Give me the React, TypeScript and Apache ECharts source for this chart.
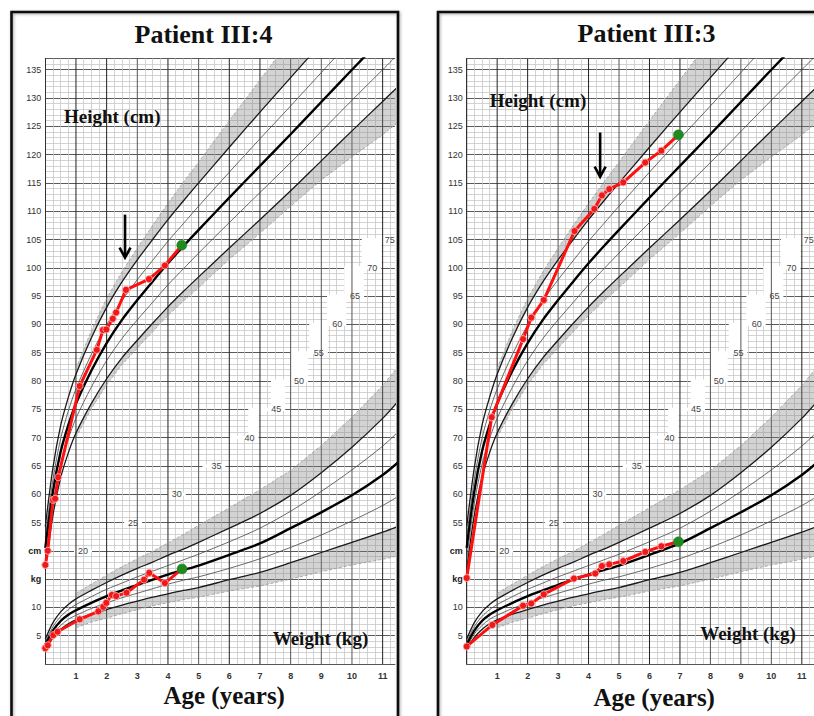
import React, { useEffect, useRef } from 'react';
import * as echarts from 'echarts';

// ---------------- reference curves ----------------
const refAges = [0, 0.25, 0.5, 0.75, 1, 1.5, 2, 2.5, 3, 3.5, 4, 4.5, 5, 6, 7, 8, 9, 10, 11, 11.5];
const heightPlus2 = [54.3, 64.7, 72.1, 77.1, 81.2, 87.6, 93.0, 97.5, 101.4, 105.0, 108.5, 111.8, 115.0, 121.3, 127.5, 133.6, 139.7, 145.8, 151.8, 154.8];
const heightPlus1 = [52.4, 62.6, 69.8, 74.7, 78.6, 84.7, 89.9, 94.2, 97.9, 101.3, 104.7, 107.8, 110.9, 116.9, 122.8, 128.6, 134.5, 140.4, 146.2, 149.1];
const heightMedian = [50.5, 60.5, 67.5, 72.2, 76.0, 81.8, 86.7, 90.8, 94.3, 97.6, 100.8, 103.8, 106.7, 112.4, 118.0, 123.6, 129.3, 135.0, 140.6, 143.4];
const heightMinus1 = [48.6, 58.4, 65.2, 69.8, 73.4, 78.9, 83.6, 87.5, 90.8, 93.9, 97.0, 99.8, 102.6, 108.0, 113.3, 118.6, 124.1, 129.6, 135.0, 137.7];
const heightMinus2 = [46.7, 56.3, 62.9, 67.3, 70.8, 76.0, 80.4, 84.1, 87.2, 90.2, 93.1, 95.8, 98.4, 103.5, 108.5, 113.6, 118.9, 124.2, 129.4, 132.0];

const bandAges = [1, 1.5, 2, 2.5, 3, 3.5, 4, 4.5, 5, 6, 7, 8, 9, 10, 11, 11.5];
const heightBandTop = [82.2, 88.9, 94.6, 99.3, 103.5, 107.5, 111.4, 115.1, 118.7, 126.0, 133.2, 140.4, 147.0, 153.4, 159.6, 162.8];
const heightBandBottom = [70.0, 75.1, 79.3, 82.9, 85.8, 88.7, 91.6, 94.1, 96.5, 101.5, 106.1, 110.9, 115.5, 119.6, 123.5, 125.7];

const weightPlus2 = [4.4, 7.3, 9.2, 10.5, 11.5, 13.0, 14.4, 15.7, 16.9, 18.0, 19.2, 20.3, 21.5, 24.0, 26.6, 29.8, 33.8, 38.3, 43.4, 46.4];
const weightPlus1 = [3.9, 6.6, 8.4, 9.6, 10.5, 11.9, 13.2, 14.3, 15.4, 16.4, 17.4, 18.4, 19.4, 21.6, 24.0, 27.0, 30.5, 34.3, 38.5, 41.0];
const weightMedian = [3.4, 5.9, 7.6, 8.7, 9.5, 10.8, 12.0, 13.0, 14.0, 14.9, 15.8, 16.6, 17.4, 19.3, 21.3, 24.0, 26.8, 29.8, 33.4, 35.6];
const weightMinus1 = [2.9, 5.3, 6.8, 7.9, 8.6, 9.8, 10.8, 11.7, 12.5, 13.3, 14.1, 14.8, 15.4, 16.9, 18.6, 20.6, 22.8, 25.3, 28.0, 29.6];
const weightMinus2 = [2.5, 4.7, 6.1, 7.1, 7.8, 8.8, 9.6, 10.4, 11.1, 11.8, 12.4, 13.0, 13.5, 14.9, 16.2, 17.9, 19.7, 21.5, 23.3, 24.3];
const weightBandTop = [12.5, 14.1, 15.7, 17.2, 18.6, 19.9, 21.4, 22.9, 24.5, 27.6, 30.8, 34.2, 38.6, 43.6, 49.2, 52.5];
const weightBandBottom = [6.4, 7.4, 8.1, 8.9, 9.6, 10.3, 10.8, 11.4, 11.8, 12.9, 13.8, 15.0, 16.3, 17.5, 18.5, 19.1];

// ---------------- patients ----------------
const p4HeightAges = [0, 0.08, 0.25, 0.32, 0.42, 1.12, 1.68, 1.88, 1.99, 2.2, 2.31, 2.63, 3.38, 3.9, 4.45];
const p4Heights = [47.5, 50.0, 59.0, 59.2, 63.0, 79.1, 85.5, 89.0, 89.1, 91.0, 92.1, 96.1, 98.0, 100.4, 104.0];
const p4WeightAges = [0, 0.08, 0.26, 0.4, 1.12, 1.73, 1.89, 1.99, 2.17, 2.31, 2.65, 3.22, 3.39, 3.9, 4.46];
const p4Weights = [2.8, 3.3, 5.1, 5.7, 7.9, 9.3, 10.1, 10.8, 12.2, 12.0, 12.6, 14.9, 16.1, 14.3, 16.8];

const p3HeightAges = [0, 0.82, 1.85, 2.12, 2.53, 3.54, 4.19, 4.44, 4.68, 5.14, 5.86, 6.39, 6.95];
const p3Heights = [45.2, 73.6, 87.4, 91.2, 94.3, 106.5, 110.4, 112.8, 113.9, 115.1, 118.6, 120.7, 123.5];
const p3WeightAges = [0, 0.84, 1.85, 2.12, 2.53, 3.52, 4.22, 4.44, 4.68, 5.14, 5.86, 6.39, 6.95];
const p3Weights = [3.1, 6.9, 10.3, 10.7, 12.3, 15.1, 16.0, 17.3, 17.6, 18.2, 19.8, 20.8, 21.6];

// ---------------- scales / ticks ----------------
const weightScaleLabels = [20, 25, 30, 35, 40, 45, 50, 55, 60, 65, 70, 75];
const weightScaleAges = [1.23, 2.86, 4.29, 5.58, 6.66, 7.53, 8.27, 8.92, 9.52, 10.1, 10.66, 11.23];
const yearTicks = [0, 1, 2, 3, 4, 5, 6, 7, 8, 9, 10, 11];
const unitTickLabels: Record<number, string> = { 30: '', 35: '5', 40: '10', 45: '{u|kg}', 50: '{u|cm}' };
const arrowAges = [2.6, 4.38];
const arrowFrom = [109.4, 123.9];
const arrowTo = [101.8, 116.1];
const panelTitles = ['Patient III:4', 'Patient III:3'];

const AGE_MAX = 11.4;
const H_MIN = 30;
const H_MAX = 137;
const W_MAX = 107;

const yearLineColors = ['#333', '#222', '#222', '#555', '#222', '#555', '#222', '#222', '#555', '#555', '#555', '#222'];
const SANS = '"Liberation Sans", Arial, sans-serif';
const SERIF = '"Liberation Serif", "Times New Roman", serif';

function gapLeft(i: number) {
  return i < 3 ? 9 : i === 3 ? 14 : i === 4 ? 20 : 28;
}

function makeX(gridIndex: number) {
  return {
    type: 'value', gridIndex, min: 0, max: AGE_MAX, interval: 1,
    axisLine: { show: true, lineStyle: { color: '#555', width: 1 } },
    axisTick: { show: false },
    axisLabel: {
      formatter: (v: number) => (v === 0 || v > 11 ? '' : String(v)),
      showMaxLabel: false,
      fontSize: 9, color: '#333', fontWeight: 'bold', margin: 7, fontFamily: SANS,
    },
    splitLine: { show: false },
    minorTick: { show: false, splitNumber: 4 },
    minorSplitLine: { show: true, lineStyle: { color: '#c8c8c8', width: 0.8 } },
  };
}
function makeH(gridIndex: number) {
  return {
    type: 'value', gridIndex, min: H_MIN, max: H_MAX, interval: 5,
    axisLine: { show: true, lineStyle: { color: '#333', width: 1 } },
    axisTick: { show: false },
    axisLabel: {
      formatter: (v: number) => (v > 135 ? '' : v in unitTickLabels ? unitTickLabels[v] : String(v)),
      showMaxLabel: false,
      fontSize: 9, color: '#333', margin: 4, fontFamily: SANS,
      rich: { u: { fontWeight: 'bold', fontSize: 9, color: '#222', fontFamily: SANS } },
    },
    splitLine: { show: true, lineStyle: { color: '#5a5a5a', width: 1 } },
    minorTick: { show: false, splitNumber: 5 },
    minorSplitLine: { show: true, lineStyle: { color: '#c8c8c8', width: 0.8 } },
  };
}
function makeW(gridIndex: number) {
  return { type: 'value', gridIndex, min: 0, max: W_MAX, show: false };
}

function refLine(xi: number, yi: number, vals: number[], width: number, color: string) {
  return {
    type: 'line', xAxisIndex: xi, yAxisIndex: yi, silent: true, z: 4,
    data: refAges.map((a, i) => [a, vals[i]]),
    showSymbol: false, symbol: 'none', smooth: 0.3, clip: true,
    lineStyle: { color, width },
  };
}

function bandSeries(xi: number, yi: number, bands: { inner: number[]; outer: number[] }[]) {
  return {
    type: 'custom', xAxisIndex: xi, yAxisIndex: yi, silent: true, z: 3, clip: true,
    data: bands.map((_, i) => [1, i === 0 ? 60 : 40]),
    renderItem: (params: any, api: any) => {
      const b = bands[params.dataIndex];
      const outer = bandAges.map((a, k) => api.coord([a, b.outer[k]]));
      const inner = bandAges.map((a, k) => api.coord([a, b.inner[k]]));
      return {
        type: 'group',
        children: [
          { type: 'polygon', shape: { points: outer.concat(inner.slice().reverse()) }, style: { fill: 'rgba(125,125,125,0.34)' } },
          { type: 'polyline', shape: { points: outer }, style: { stroke: '#9a9a9a', lineWidth: 0.8, lineDash: [3, 2], fill: null } },
        ],
      };
    },
  };
}

function patientSeries(xi: number, yi: number, ages: number[], vals: number[]) {
  const data = ages.map((a, i) =>
    i === ages.length - 1
      ? { value: [a, vals[i]], symbolSize: 10, itemStyle: { color: '#1f8a1f', borderColor: '#1a7a1a', borderWidth: 0.5 } }
      : [a, vals[i]]
  );
  return {
    type: 'line', xAxisIndex: xi, yAxisIndex: yi, silent: true, z: 6, clip: true,
    data, symbol: 'circle', symbolSize: 7, showSymbol: true, showAllSymbol: true,
    lineStyle: { color: '#ff1010', width: 3 },
    itemStyle: { color: '#f01818', borderColor: '#ffa4a4', borderWidth: 1 },
  };
}

function panelSeries(p: number, hAges: number[], hVals: number[], wAges: number[], wVals: number[]) {
  const xi = p, hy = 2 * p, wy = 2 * p + 1;
  const s: any[] = [];
  // white staircase corridor with the weight scale labels
  s.push({
    type: 'custom', xAxisIndex: xi, yAxisIndex: wy, silent: true, z: 1, clip: true,
    data: weightScaleAges.map((a, i) => [a, weightScaleLabels[i]]),
    renderItem: (params: any, api: any) => {
      const i = params.dataIndex;
      const pt = api.coord([api.value(0), api.value(1)]);
      const children: any[] = [
        { type: 'rect', shape: { x: pt[0] - gapLeft(i), y: pt[1] - 1.6, width: gapLeft(i) + 9, height: 3.2 }, style: { fill: '#fff' } },
      ];
      if (i + 1 < weightScaleAges.length) {
        const pn = api.coord([weightScaleAges[i + 1], weightScaleLabels[i + 1]]);
        const x0 = pn[0] - gapLeft(i + 1);
        const x1 = pt[0] + 9;
        if (x1 > x0) {
          children.push({ type: 'rect', shape: { x: x0, y: pn[1] + 1.2, width: x1 - x0, height: pt[1] - pn[1] - 2.4 }, style: { fill: '#fff' } });
        }
      }
      children.push({
        type: 'text',
        style: {
          text: String(api.value(1)), x: pt[0], y: pt[1], fill: '#444',
          font: `9px ${SANS}`, align: 'center', verticalAlign: 'middle', textAlign: 'center', textVerticalAlign: 'middle',
        },
      });
      return { type: 'group', children };
    },
  });
  // year lines
  s.push({
    type: 'custom', xAxisIndex: xi, yAxisIndex: hy, silent: true, z: 2, clip: true,
    data: yearTicks.map((a) => [a, 50]),
    renderItem: (params: any, api: any) => {
      const a = api.value(0);
      const t = api.coord([a, H_MAX]);
      const b = api.coord([a, H_MIN]);
      return { type: 'line', shape: { x1: t[0], y1: t[1], x2: b[0], y2: b[1] }, style: { stroke: yearLineColors[params.dataIndex], lineWidth: 1 } };
    },
  });
  // bands
  s.push(bandSeries(xi, hy, [
    { inner: heightPlus2.slice(4), outer: heightBandTop },
    { inner: heightMinus2.slice(4), outer: heightBandBottom },
  ]));
  s.push(bandSeries(xi, wy, [
    { inner: weightPlus2.slice(4), outer: weightBandTop },
    { inner: weightMinus2.slice(4), outer: weightBandBottom },
  ]));
  // reference lines
  s.push(refLine(xi, hy, heightPlus2, 1.3, '#1a1a1a'));
  s.push(refLine(xi, hy, heightPlus1, 0.8, '#444'));
  s.push(refLine(xi, hy, heightMedian, 2.4, '#000'));
  s.push(refLine(xi, hy, heightMinus1, 0.8, '#444'));
  s.push(refLine(xi, hy, heightMinus2, 1.3, '#1a1a1a'));
  s.push(refLine(xi, wy, weightPlus2, 1.3, '#1a1a1a'));
  s.push(refLine(xi, wy, weightPlus1, 0.8, '#444'));
  s.push(refLine(xi, wy, weightMedian, 2.4, '#000'));
  s.push(refLine(xi, wy, weightMinus1, 0.8, '#444'));
  s.push(refLine(xi, wy, weightMinus2, 1.3, '#1a1a1a'));
  // patient
  s.push(patientSeries(xi, hy, hAges, hVals));
  s.push(patientSeries(xi, wy, wAges, wVals));
  // arrow
  s.push({
    type: 'custom', xAxisIndex: xi, yAxisIndex: hy, silent: true, z: 7,
    data: [[arrowAges[p], arrowFrom[p], arrowTo[p]]],
    renderItem: (params: any, api: any) => {
      const t = api.coord([api.value(0), api.value(1)]);
      const b = api.coord([api.value(0), api.value(2)]);
      return {
        type: 'group',
        children: [
          { type: 'line', shape: { x1: t[0], y1: t[1], x2: b[0], y2: b[1] - 1 }, style: { stroke: '#000', lineWidth: 2.6 } },
          { type: 'polyline', shape: { points: [[b[0] - 5.5, b[1] - 10], [b[0], b[1]], [b[0] + 5.5, b[1] - 10]] }, style: { stroke: '#000', lineWidth: 2.6, fill: null } },
        ],
      };
    },
  });
  return s;
}

function txt(x: number, y: number, text: string, font: string) {
  return {
    type: 'text', x, y, silent: true, z: 20,
    style: { text, font, fill: '#111', align: 'center', verticalAlign: 'middle', textAlign: 'center', textVerticalAlign: 'middle' },
  };
}

function buildOption() {
  return {
    animation: false,
    backgroundColor: '#fff',
    grid: [
      { left: 45.3, top: 58.4, width: 349.6, height: 605.6 },
      { left: 466.7, top: 58.4, width: 348.8, height: 605.6 },
    ],
    xAxis: [makeX(0), makeX(1)],
    yAxis: [makeH(0), makeW(0), makeH(1), makeW(1)],
    series: [
      ...panelSeries(0, p4HeightAges, p4Heights, p4WeightAges, p4Weights),
      ...panelSeries(1, p3HeightAges, p3Heights, p3WeightAges, p3Weights),
    ],
    graphic: [
      {
        type: 'rect', silent: true, z: 30,
        shape: { x: 11.5, y: 12, width: 386.5, height: 740 },
        style: { fill: 'none', stroke: '#111', lineWidth: 2.6, shadowBlur: 3, shadowColor: 'rgba(0,0,0,0.35)', shadowOffsetX: 1, shadowOffsetY: 1 },
      },
      {
        type: 'rect', silent: true, z: 30,
        shape: { x: 438, y: 12, width: 420, height: 740 },
        style: { fill: 'none', stroke: '#111', lineWidth: 2.6, shadowBlur: 3, shadowColor: 'rgba(0,0,0,0.35)', shadowOffsetX: 1, shadowOffsetY: 1 },
      },
      txt(203.5, 34, panelTitles[0], `bold 26px ${SERIF}`),
      txt(646.5, 33.5, panelTitles[1], `bold 26px ${SERIF}`),
      txt(112.2, 116.5, 'Height (cm)', `bold 19px ${SERIF}`),
      txt(538, 100, 'Height (cm)', `bold 19px ${SERIF}`),
      txt(320.5, 638, 'Weight (kg)', `bold 19px ${SERIF}`),
      txt(748, 633, 'Weight (kg)', `bold 19px ${SERIF}`),
      txt(224.2, 695, 'Age (years)', `bold 25px ${SERIF}`),
      txt(654.2, 697, 'Age (years)', `bold 25px ${SERIF}`),
    ],
  };
}

export default function App() {
  const ref = useRef<HTMLDivElement>(null);
  useEffect(() => {
    const chart = echarts.init(ref.current as HTMLDivElement, null, { renderer: 'svg' });
    chart.setOption(buildOption() as any);
    return () => chart.dispose();
  }, []);
  return (
    <div
      ref={ref}
      style={{ position: 'absolute', left: 0, top: 0, width: 814, height: 716, background: '#fff' }}
    />
  );
}
